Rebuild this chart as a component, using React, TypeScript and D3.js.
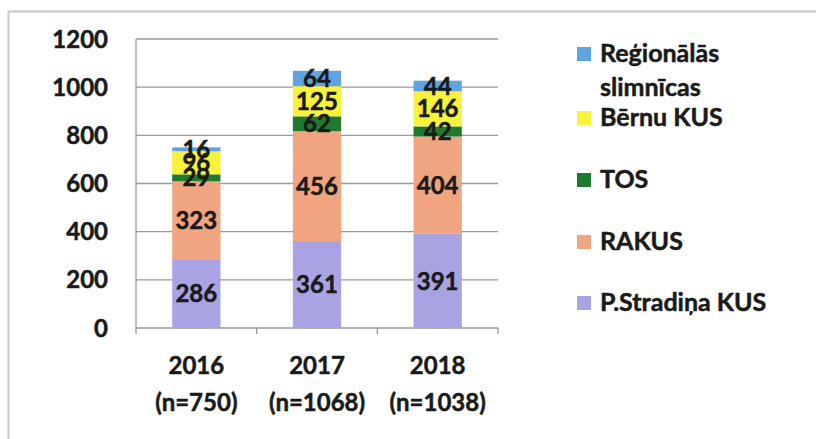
import React from "react";
import * as d3 from "d3";

const categories = ["2016", "2017", "2018"];
const categoryN = ["(n=750)", "(n=1068)", "(n=1038)"];
const seriesNames = ["P.Stradiņa KUS", "RAKUS", "TOS", "Bērnu KUS", "Reģionālās slimnīcas"];
const stradins = [286, 361, 391];
const rakus = [323, 456, 404];
const tos = [29, 62, 42];
const bernu = [96, 125, 146];
const regionalas = [16, 64, 44];
const yTicks = [0, 200, 400, 600, 800, 1000, 1200];

const seriesValues = [stradins, rakus, tos, bernu, regionalas];
const colors = ["#a9a3e3", "#f0a580", "#1f7a2e", "#f8f23a", "#5fa3e0"];

export default function App() {
  const W = 816, H = 439;
  const x0 = 136, x1 = 498, yTop = 39, yBot = 328;
  const x = d3.scaleBand().domain(categories).range([x0, x1]).paddingInner(0.6).paddingOuter(0.3);
  const y = d3.scaleLinear().domain([0, 1200]).range([yBot, yTop]);
  const data = categories.map((c, i) => {
    const o: any = { cat: c };
    seriesNames.forEach((s, j) => (o[s] = seriesValues[j][i]));
    return o;
  });
  const stack = d3.stack().keys(seriesNames)(data as any);
  const font = "Lato, 'Open Sans', sans-serif";
  const step = (x1 - x0) / categories.length;
  const legendY = [54, 118, 180, 242, 303];
  const bold = { fontWeight: 700, stroke: "#1a1a1a", strokeWidth: 0.5, fill: "#1a1a1a" } as any;

  return (
    <svg width={W} height={H} style={{ position: "absolute", left: 0, top: 0, background: "#fff" }} fontFamily={font}>
      <rect x={8.5} y={11.5} width={900} height={600} fill="none" stroke="#c8c8c8" strokeWidth={2} />
      {yTicks.map((t) => (
        <g key={t}>
          <line x1={x0} x2={x1} y1={y(t)} y2={y(t)} stroke="#9a9a9a" strokeWidth={1.3} />
          <text x={108} y={y(t)} dy="0.36em" textAnchor="end" fontSize={24} {...bold}>{t}</text>
        </g>
      ))}
      <line x1={x0} x2={x0} y1={yTop} y2={yBot} stroke="#9a9a9a" strokeWidth={1.3} />
      {[0, 1, 2, 3].map((i) => (
        <line key={i} x1={x0 + i * step} x2={x0 + i * step} y1={yBot} y2={yBot + 6} stroke="#9a9a9a" strokeWidth={1.3} />
      ))}
      {stack.map((layer, j) => (
        <g key={j}>
          {layer.map((d: any, i) => (
            <rect key={i} x={x(categories[i])} width={x.bandwidth()} y={y(d[1])} height={y(d[0]) - y(d[1])} fill={colors[j]} />
          ))}
        </g>
      ))}
      {stack.map((layer, j) => (
        <g key={"l" + j}>
          {layer.map((d: any, i) => (
            <text key={i} x={(x(categories[i]) as number) + x.bandwidth() / 2} y={(y(d[0]) + y(d[1])) / 2} dy="0.36em"
              textAnchor="middle" fontSize={24} {...bold}>{seriesValues[j][i]}</text>
          ))}
        </g>
      ))}
      {categories.map((c, i) => (
        <g key={c}>
          <text x={(x(c) as number) + x.bandwidth() / 2} y={365} dy="0.36em" textAnchor="middle" fontSize={24} {...bold}>{c}</text>
          <text x={(x(c) as number) + x.bandwidth() / 2} y={402} dy="0.36em" textAnchor="middle" fontSize={24} {...bold}>{categoryN[i]}</text>
        </g>
      ))}
      {seriesNames.map((s, j) => {
        const idx = seriesNames.length - 1 - j;
        const name = seriesNames[idx];
        const cy = legendY[j];
        const lines = name === "Reģionālās slimnīcas" ? ["Reģionālās", "slimnīcas"] : [name];
        return (
          <g key={name}>
            <rect x={577} y={cy - 7} width={14} height={14} fill={colors[idx]} />
            {lines.map((ln, k) => (
              <text key={k} x={600} y={cy - 1 + k * 34} dy="0.36em" fontSize={25} {...bold}>{ln}</text>
            ))}
          </g>
        );
      })}
    </svg>
  );
}
